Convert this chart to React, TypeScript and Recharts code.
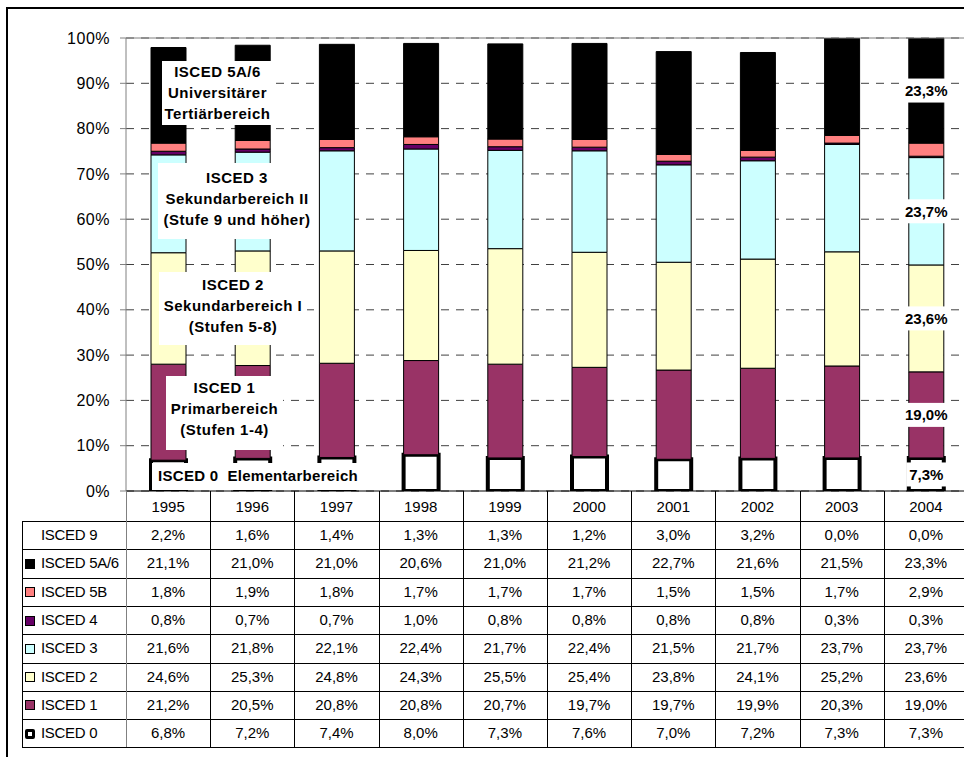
import React from 'react';
import { BarChart, Bar, XAxis, YAxis, CartesianGrid, ReferenceLine, LabelList } from 'recharts';

const years = ['1995', '1996', '1997', '1998', '1999', '2000', '2001', '2002', '2003', '2004'];
const yTicks = [0, 10, 20, 30, 40, 50, 60, 70, 80, 90, 100];

const isced9 = [2.2, 1.6, 1.4, 1.3, 1.3, 1.2, 3.0, 3.2, 0.0, 0.0];
const isced5a6 = [21.1, 21.0, 21.0, 20.6, 21.0, 21.2, 22.7, 21.6, 21.5, 23.3];
const isced5b = [1.8, 1.9, 1.8, 1.7, 1.7, 1.7, 1.5, 1.5, 1.7, 2.9];
const isced4 = [0.8, 0.7, 0.7, 1.0, 0.8, 0.8, 0.8, 0.8, 0.3, 0.3];
const isced3 = [21.6, 21.8, 22.1, 22.4, 21.7, 22.4, 21.5, 21.7, 23.7, 23.7];
const isced2 = [24.6, 25.3, 24.8, 24.3, 25.5, 25.4, 23.8, 24.1, 25.2, 23.6];
const isced1 = [21.2, 20.5, 20.8, 20.8, 20.7, 19.7, 19.7, 19.9, 20.3, 19.0];
const isced0 = [6.8, 7.2, 7.4, 8.0, 7.3, 7.6, 7.0, 7.2, 7.3, 7.3];

// labels shown only on the last bar
const labelled = ['i0', 'i1', 'i2', 'i3', 'i5a6'];

const series = [
  { key: 'i0', name: 'ISCED 0', values: isced0, fill: '#ffffff', stroke: '#000', strokeWidth: 4 },
  { key: 'i1', name: 'ISCED 1', values: isced1, fill: '#993366', stroke: '#000', strokeWidth: 1 },
  { key: 'i2', name: 'ISCED 2', values: isced2, fill: '#ffffcc', stroke: '#000', strokeWidth: 1 },
  { key: 'i3', name: 'ISCED 3', values: isced3, fill: '#ccffff', stroke: '#000', strokeWidth: 1 },
  { key: 'i4', name: 'ISCED 4', values: isced4, fill: '#660066', stroke: '#000', strokeWidth: 1 },
  { key: 'i5b', name: 'ISCED 5B', values: isced5b, fill: '#ff8080', stroke: '#000', strokeWidth: 1 },
  { key: 'i5a6', name: 'ISCED 5A/6', values: isced5a6, fill: '#000000', stroke: '#000', strokeWidth: 1 },
];

// table rows, top to bottom
const tableRows = [
  { name: 'ISCED 9', values: isced9, key: null as string | null },
  { name: 'ISCED 5A/6', values: isced5a6, key: 'i5a6' },
  { name: 'ISCED 5B', values: isced5b, key: 'i5b' },
  { name: 'ISCED 4', values: isced4, key: 'i4' },
  { name: 'ISCED 3', values: isced3, key: 'i3' },
  { name: 'ISCED 2', values: isced2, key: 'i2' },
  { name: 'ISCED 1', values: isced1, key: 'i1' },
  { name: 'ISCED 0', values: isced0, key: 'i0' },
];

const data = years.map((year, i) => {
  const row: any = { year };
  series.forEach(s => { row[s.key] = s.values[i]; });
  return row;
});

const fmt = (v: number) => v.toFixed(1).replace('.', ',') + '%';

const FONT = '"Liberation Sans", Arial, sans-serif';
const PLOT_LEFT = 126;
const PLOT_W = 842;
const COL_W = PLOT_W / years.length;
const TABLE_TOP = 521;
const ROW_H = 28.3;

const makeLabel = (values: number[]) => (props: any) => {
  const { x, y, width, height, index } = props;
  if (index !== years.length - 1) return null;
  const cx = Number(x) + Number(width) / 2;
  const cy = Number(y) + Number(height) / 2;
  const text = fmt(values[index]);
  const w = text.length * 9 + 4;
  return (
    <g>
      <rect x={cx - w / 2} y={cy - 12} width={w} height={24} fill="#fff" />
      <text x={cx} y={cy} dy="0.36em" textAnchor="middle" fontFamily={FONT} fontWeight="bold" fontSize={15} fill="#000">
        {text}
      </text>
    </g>
  );
};

const boxStyle: React.CSSProperties = {
  position: 'absolute',
  background: '#fff',
  fontFamily: FONT,
  fontWeight: 'bold',
  fontSize: 15,
  letterSpacing: 0.5,
  lineHeight: '20.8px',
  textAlign: 'center',
  color: '#000',
  boxSizing: 'border-box',
  whiteSpace: 'nowrap',
};

const App: React.FC = () => {
  return (
    <div style={{ position: 'absolute', left: 0, top: 0, width: 964, height: 757, overflow: 'hidden', background: '#fff' }}>
      <div style={{ position: 'absolute', left: 6, top: 7, width: 1000, height: 800, border: '2px solid #000' }} />

      <div style={{ position: 'absolute', left: 0, top: 0 }}>
        <BarChart
          width={1000}
          height={521}
          data={data}
          margin={{ top: 38, right: 1000 - PLOT_LEFT - PLOT_W, left: 0, bottom: 0 }}
          barSize={35}
        >
          <CartesianGrid vertical={false} stroke="#404040" strokeDasharray="8 7" />
          <XAxis
            dataKey="year"
            height={30}
            interval={0}
            axisLine={{ stroke: '#000' }}
            tickLine={false}
            tickSize={6}
            tickMargin={4}
            tick={{ fontSize: 15, fill: '#000', fontFamily: FONT }}
          />
          <YAxis
            width={PLOT_LEFT}
            domain={[0, 100]}
            ticks={yTicks}
            allowDataOverflow
            tickFormatter={(v: number) => v + '%'}
            axisLine={{ stroke: '#808080' }}
            tickLine={{ stroke: '#808080' }}
            tickSize={6}
            tickMargin={10}
            tick={{ fontSize: 16, fill: '#000', fontFamily: FONT, letterSpacing: 0.5 }}
          />
          <ReferenceLine y={100} stroke="#808080" />
          {series.map(s => (
            <Bar
              key={s.key}
              dataKey={s.key}
              name={s.name}
              stackId="a"
              fill={s.fill}
              stroke={s.stroke}
              strokeWidth={s.strokeWidth}
              isAnimationActive={false}
            >
              {labelled.includes(s.key) && <LabelList dataKey={s.key} content={makeLabel(s.values)} />}
            </Bar>
          ))}
        </BarChart>
      </div>

      {/* annotations */}
      <div style={{ ...boxStyle, left: 162, top: 61, width: 111, height: 64, paddingTop: 1 }}>
        ISCED 5A/6<br />Universitärer<br />Tertiärbereich
      </div>
      <div style={{ ...boxStyle, left: 158, top: 163, width: 158, height: 76, paddingTop: 5 }}>
        ISCED 3<br />Sekundarbereich II<br />(Stufe 9 und höher)
      </div>
      <div style={{ ...boxStyle, left: 159, top: 272, width: 148, height: 73, paddingTop: 3 }}>
        ISCED 2<br />Sekundarbereich I<br />(Stufen 5-8)
      </div>
      <div style={{ ...boxStyle, left: 166, top: 376, width: 117, height: 74, paddingTop: 2 }}>
        ISCED 1<br />Primarbereich<br />(Stufen 1-4)
      </div>
      <div style={{ ...boxStyle, left: 152, top: 463, width: 211, height: 27, paddingTop: 3, paddingLeft: 6, textAlign: 'left', whiteSpace: 'pre', letterSpacing: 0.3 }}>
        {'ISCED 0  Elementarbereich'}
      </div>

      {/* data table lines */}
      {tableRows.map((_, i) => (
        <div key={'h' + i} style={{ position: 'absolute', left: 22, top: TABLE_TOP + i * ROW_H, width: 960, height: 1, background: '#000' }} />
      ))}
      <div style={{ position: 'absolute', left: 22, top: TABLE_TOP + tableRows.length * ROW_H, width: 960, height: 1, background: '#000' }} />
      <div style={{ position: 'absolute', left: 22, top: TABLE_TOP, width: 1, height: tableRows.length * ROW_H, background: '#000' }} />
      {years.map((_, j) => (
        <div key={'v' + j} style={{ position: 'absolute', left: Math.round(PLOT_LEFT + j * COL_W), top: 491, width: 1, height: TABLE_TOP - 491 + tableRows.length * ROW_H, background: j === 0 ? '#808080' : '#000' }} />
      ))}

      {/* data table cells */}
      {tableRows.map((r, i) => {
        const s = series.find(x => x.key === r.key);
        const top = TABLE_TOP + i * ROW_H;
        return (
          <React.Fragment key={r.name}>
            {s && (
              <div
                style={{
                  position: 'absolute',
                  left: 25,
                  top: top + ROW_H / 2 - 4.5,
                  width: 10,
                  height: 10,
                  boxSizing: 'border-box',
                  background: s.fill,
                  border: s.key === 'i0' ? '3px solid #000' : '1px solid #000',
                  borderRadius: s.key === 'i0' ? 2 : 0,
                }}
              />
            )}
            <div style={{ position: 'absolute', left: 41, top, height: ROW_H, lineHeight: ROW_H + 'px', fontFamily: FONT, fontSize: 15, letterSpacing: -0.3, color: '#000', whiteSpace: 'nowrap' }}>
              {r.name}
            </div>
            {r.values.map((v, j) => (
              <div
                key={j}
                style={{
                  position: 'absolute',
                  left: PLOT_LEFT + j * COL_W,
                  width: COL_W,
                  top,
                  height: ROW_H,
                  lineHeight: ROW_H + 'px',
                  textAlign: 'center',
                  fontFamily: FONT,
                  fontSize: 15,
                  color: '#000',
                }}
              >
                {fmt(v)}
              </div>
            ))}
          </React.Fragment>
        );
      })}
    </div>
  );
};

export default App;
